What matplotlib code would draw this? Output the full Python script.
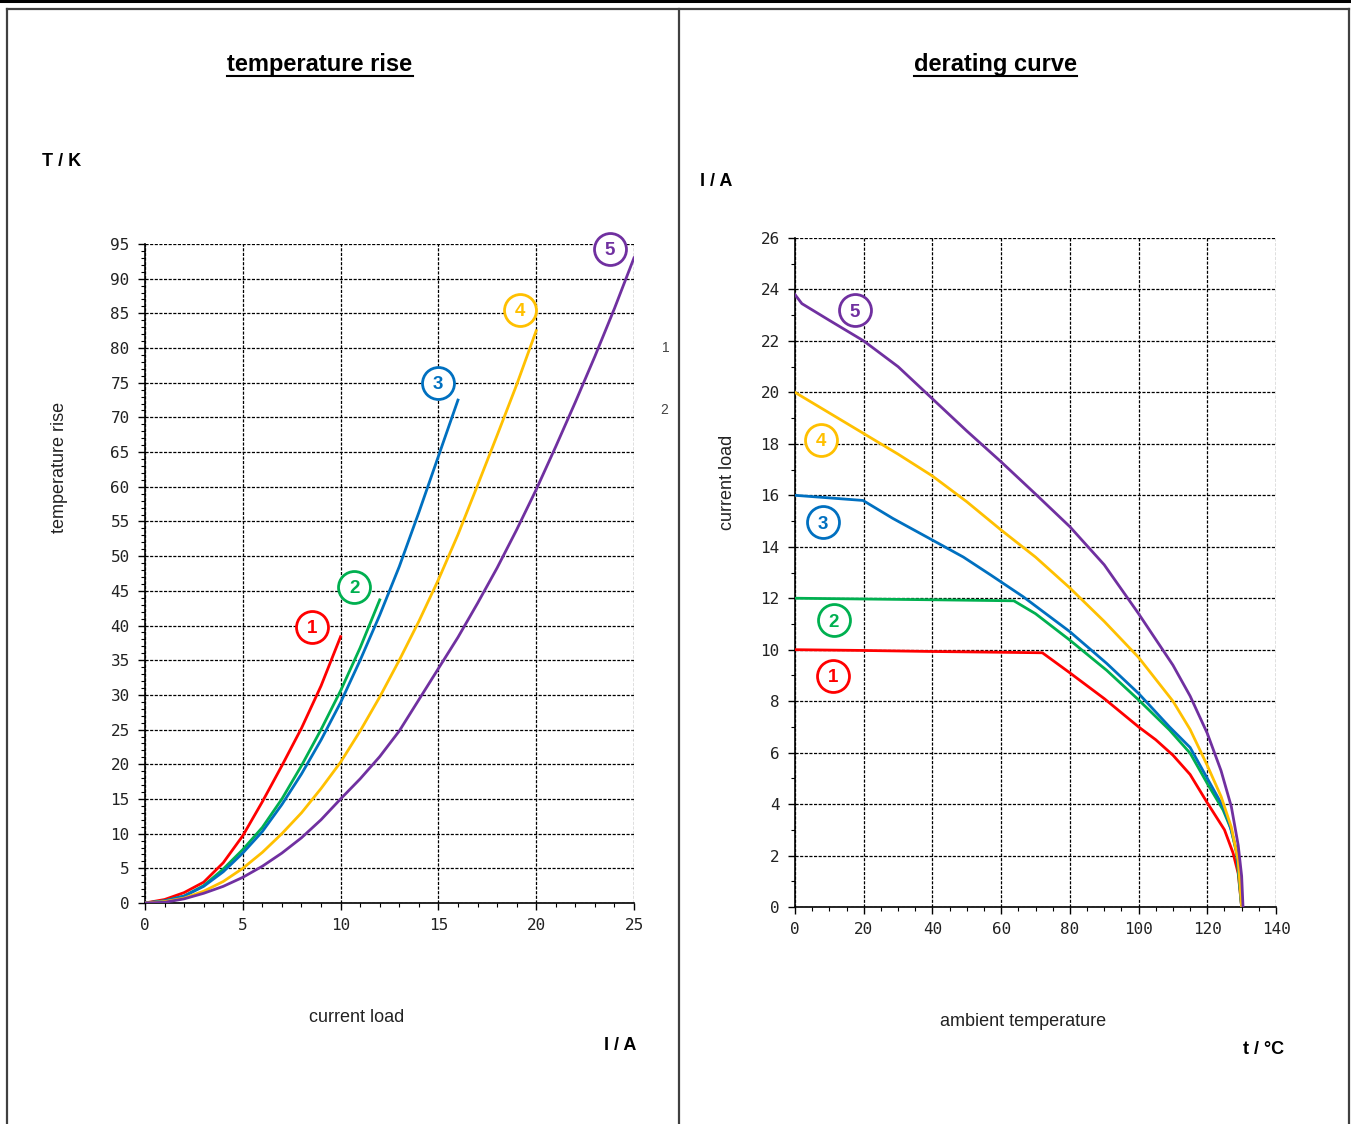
import numpy as np
import matplotlib.pyplot as plt
from matplotlib.ticker import MultipleLocator
from matplotlib.lines import Line2D

# colours of the five types
colors = ['#FF0000', '#00B050', '#0070C0', '#FFC000', '#7030A0']
labels = ['1', '2', '3', '4', '5']

# temperature rise: current I / A -> T / K
rise_I = [
    [0, 1, 2, 3, 4, 5, 6, 7, 8, 9, 10],
    [0, 1, 2, 3, 4, 5, 6, 7, 8, 9, 10, 11, 12],
    [0, 1, 2, 3, 4, 5, 6, 7, 8, 9, 10, 11, 12, 13, 14, 15, 16],
    [0, 1, 2, 3, 4, 5, 6, 7, 8, 9, 10, 11, 12, 13, 14, 15, 16, 17, 18, 19, 20],
    [0, 1, 2, 3, 4, 5, 6, 7, 8, 9, 10, 11, 12, 13, 14, 15, 16, 17, 18, 19, 20, 21, 22, 23, 24, 25],
]
rise_T = [
    [0, 0.5, 1.5, 3.0, 5.8, 9.7, 14.6, 19.8, 25.2, 31.3, 38.4],
    [0, 0.3, 1.0, 2.5, 4.9, 7.7, 10.9, 15.0, 19.8, 25.0, 30.6, 36.8, 43.7],
    [0, 0.3, 1.0, 2.4, 4.5, 7.2, 10.3, 14.2, 18.6, 23.5, 28.9, 35.0, 41.5, 48.5, 56.3, 64.4, 72.5],
    [0, 0.2, 0.7, 1.7, 3.1, 5.0, 7.3, 10.0, 13.0, 16.5, 20.3, 24.8, 29.7, 35.0, 40.6, 46.6, 53.1, 60.2, 67.4, 74.7, 82.5],
    [0, 0.1, 0.6, 1.4, 2.4, 3.7, 5.3, 7.2, 9.4, 12.0, 15.0, 17.9, 21.1, 24.8, 29.3, 33.8, 38.3, 43.2, 48.3,
     53.8, 59.6, 65.8, 72.2, 78.8, 85.7, 93.0],
]

# derating: ambient temperature t / C -> I / A
der_t = [
    [0, 20, 40, 60, 72, 80, 90, 100, 105, 110, 115, 120, 125, 127.5, 129, 130],
    [0, 20, 40, 63.7, 70, 80, 90.7, 100, 109, 115, 120, 124.6, 127, 128.5, 130],
    [0, 19.8, 28.5, 40, 49, 57, 66.4, 80, 90.7, 100, 109, 115, 120, 124.6, 126.5, 128.5, 129.3, 130],
    [0, 10, 20, 30, 40, 50, 60, 70, 80, 90, 100, 110, 115, 120, 124, 127, 129, 130],
    [0, 2, 10, 20, 30, 40, 50, 60, 70, 80, 90, 100, 110, 115, 120, 124, 127, 129, 130, 130.4],
]
der_I = [
    [10, 9.97, 9.93, 9.9, 9.88, 9.1, 8.1, 7.0, 6.5, 5.9, 5.15, 4.05, 3.0, 2.1, 1.3, 0],
    [12, 11.97, 11.94, 11.9, 11.4, 10.37, 9.2, 8.05, 6.88, 5.98, 4.8, 3.77, 3.0, 2.1, 0],
    [16, 15.8, 15.1, 14.26, 13.6, 12.9, 12.06, 10.7, 9.47, 8.3, 7.0, 6.2, 5.0, 3.9, 3.2, 2.2, 1.2, 0],
    [20, 19.2, 18.4, 17.6, 16.75, 15.75, 14.65, 13.6, 12.4, 11.1, 9.7, 8.0, 6.9, 5.5, 4.3, 3.1, 1.8, 0],
    [23.8, 23.45, 22.8, 22.0, 21.0, 19.75, 18.5, 17.3, 16.05, 14.78, 13.3, 11.4, 9.4, 8.2, 6.75, 5.3, 3.9, 2.4,
     1.2, 0],
]

# where the circled numbers sit (data coords)
rise_lab = [(8.54, 39.8), (10.69, 45.6), (14.98, 75.0), (19.17, 85.5), (23.77, 94.3)]
der_lab = [(11.06, 8.98), (11.35, 11.15), (8.1, 14.96), (7.6, 18.15), (17.5, 23.2)]

narrow = ['Liberation Sans Narrow', 'Liberation Sans', 'DejaVu Sans']
sans = ['Liberation Sans', 'DejaVu Sans']
mono = 'DejaVu Sans Mono'

fig = plt.figure(figsize=(13.51, 11.24), dpi=100)
W, H = 1351.0, 1124.0

# page frame
fig.add_artist(Line2D([0, 1], [1 - 1.2 / H, 1 - 1.2 / H], color='black', lw=2.2))
for xs, ys in [([7 / W, 1349 / W], [1 - 8.5 / H] * 2),
               ([7 / W] * 2, [0, 1 - 8.5 / H]),
               ([678.5 / W] * 2, [0, 1 - 8.5 / H]),
               ([1349 / W] * 2, [0, 1 - 8.5 / H])]:
    fig.add_artist(Line2D(xs, ys, color='#404040', lw=1.6))


def setup(ax):
    ax.grid(True, which='major', color='black', lw=0.9, ls=(0, (2.5, 1.2)))
    for s in ['top', 'right']:
        ax.spines[s].set_visible(False)
    for s in ['left', 'bottom']:
        ax.spines[s].set_linewidth(1.2)
    ax.tick_params(which='major', direction='out', length=5, width=1, labelsize=11.5, pad=6)
    ax.tick_params(which='minor', direction='out', length=3, width=0.8)
    for t in ax.get_xticklabels() + ax.get_yticklabels():
        t.set_fontfamily(mono)
        t.set_color('#222222')


def circled(ax, x, y, txt, c):
    ax.plot(x, y, 'o', ms=23, mfc='white', mec=c, mew=2, clip_on=False, zorder=5)
    ax.text(x, y, txt, color=c, ha='center', va='center_baseline', fontsize=13.5, fontweight='bold',
            family=sans, zorder=6, clip_on=False)


# left: temperature rise
ax1 = fig.add_axes([145 / W, 1 - 903 / H, 489 / W, 659 / H])
for i in range(5):
    ax1.plot(rise_I[i], rise_T[i], color=colors[i], lw=2, zorder=3)
ax1.set_xlim(0, 25)
ax1.set_ylim(0, 95)
ax1.set_xticks(np.arange(0, 26, 5))
ax1.set_yticks(np.arange(0, 96, 5))
ax1.xaxis.set_minor_locator(MultipleLocator(1))
ax1.yaxis.set_minor_locator(MultipleLocator(1))
setup(ax1)
for i in range(5):
    circled(ax1, rise_lab[i][0], rise_lab[i][1], labels[i], colors[i])

# right: derating curve
ax2 = fig.add_axes([795 / W, 1 - 907 / H, 481 / W, 669 / H])
for i in range(5):
    ax2.plot(der_t[i], der_I[i], color=colors[i], lw=2, zorder=3)
ax2.set_xlim(0, 140)
ax2.set_ylim(0, 26)
ax2.set_xticks(np.arange(0, 141, 20))
ax2.set_yticks(np.arange(0, 27, 2))
ax2.xaxis.set_minor_locator(MultipleLocator(5))
ax2.yaxis.set_minor_locator(MultipleLocator(1))
setup(ax2)
for i in range(5):
    circled(ax2, der_lab[i][0], der_lab[i][1], labels[i], colors[i])

# texts
def ftext(x, y, s, **kw):
    fig.text(x / W, 1 - y / H, s, **kw)

ftext(320, 64, 'temperature rise', ha='center', va='center', fontsize=17, fontweight='bold',
      family=narrow)
ftext(995, 64, 'derating curve', ha='center', va='center', fontsize=17, fontweight='bold',
      family=narrow)
# underline titles
for cx, w in [(320, 185), (995, 163)]:
    fig.add_artist(Line2D([(cx - w / 2) / W, (cx + w / 2) / W], [1 - 76 / H] * 2, color='black', lw=1.5))

ftext(42, 162, 'T / K', ha='left', va='center', fontsize=13, fontweight='bold', family=narrow)
ftext(700, 182, 'I / A', ha='left', va='center', fontsize=13, fontweight='bold', family=narrow)
ftext(636, 1046, 'I / A', ha='right', va='center', fontsize=13, fontweight='bold', family=narrow)
ftext(1284, 1050, 't / °C', ha='right', va='center', fontsize=13, fontweight='bold', family=narrow)
ftext(357, 1018, 'current load', ha='center', va='center', fontsize=13, family=narrow, color='#222222')
ftext(1023, 1021, 'ambient temperature', ha='center', va='center', fontsize=13, family=narrow,
      color='#222222')
ftext(60, 467, 'temperature rise', ha='center', va='center', fontsize=13, rotation=90, family=narrow,
      color='#222222')
ftext(728, 482, 'current load', ha='center', va='center', fontsize=13, rotation=90, family=narrow,
      color='#222222')
ftext(666, 348, '1', ha='center', va='center', fontsize=10, family=sans, color='#444444')
ftext(664, 410, '2', ha='center', va='center', fontsize=10, family=sans, color='#444444')

fig.savefig('out.png', dpi=100)
